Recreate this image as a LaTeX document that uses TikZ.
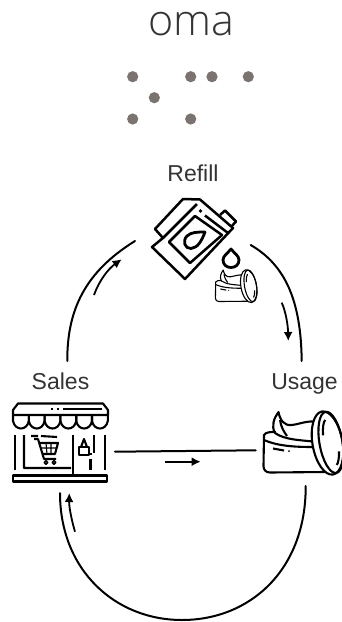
\documentclass[tikz,border=0pt]{standalone}
\usepackage{fontspec}
\usepackage{xcolor}
\setmainfont{Liberation Sans}
\newfontfamily\logofont{Open Sans Light}
\usetikzlibrary{calc,positioning,arrows.meta}
\definecolor{dotgray}{HTML}{7A736F}
\definecolor{textgray}{HTML}{333333}
\tikzset{
  label text/.style={text=textgray,font=\fontsize{23}{23}\selectfont,inner sep=0pt,anchor=base},
  flowline/.style={line width=2pt,line cap=round},
  flowarrow/.style={line width=1.8pt,-{Latex[length=9pt,width=9pt]}},
  icon/.style={line width=2.1pt,line join=round},
  thin icon/.style={line width=1.1pt,line join=round}
}
\newcommand{\jaricon}[1][icon]{
  % cream jar with its lid leaning on the right
  \draw[#1,fill=white] (35,73) .. controls (31,66) and (34,58) .. (38.5,52)
    .. controls (40,60) and (44,66) .. (52,65) .. controls (60,64) and (68,60) .. (78,62)
    -- (78,85) -- (35,85) -- cycle;
  \draw[#1] (40,60) .. controls (41,67) and (44,72) .. (47,76);
  \draw[#1,fill=white] (24,75) .. controls (26,72) and (30,72) .. (35,72) -- (35,73)
    .. controls (45,80) and (60,80) .. (78,82) -- (85,112) -- (30,112.5)
    .. controls (26,112.5) and (23.5,110) .. (23.5,106) -- cycle;
  \draw[#1] (24,80) .. controls (40,87) and (60,87) .. (76,87);
  \draw[#1] (33,88.5) -- (44,90.5);
  \fill (49,91) circle (1);
  \begin{scope}[rotate around={10:(87.5,83)}]
    \draw[#1,fill=white] (87.5,83) ellipse (15 and 32);
    \draw[#1] (91,83) ellipse (11.5 and 31);
    \draw[#1] (91,83) ++(200:7 and 24) arc[start angle=200,end angle=255,x radius=7,y radius=24];
    \draw[#1] (91,83) ++(25:7 and 24) arc[start angle=25,end angle=75,x radius=7,y radius=24];
  \end{scope}
}
\newcommand{\shopicon}{
  % awning, walls, cart, door and step of the shop
  \draw[icon] (13,415) -- (13,410) -- (18,403.5) -- (103,403.5) -- (108,410) -- (108,415) -- cycle;
  \draw[icon] (51,409) -- (53,409) (57,409) -- (59,409) (63,409) -- (102,409);
  \foreach \i in {0,...,5}
    \draw[icon] ({13+15.8*\i},415) -- ({13+15.8*\i},421)
      .. controls ({15+15.8*\i},431) and ({27+15.8*\i},431) .. ({28.8+15.8*\i},421) -- ({28.8+15.8*\i},415);
  \draw[icon] (15,435) -- (15,470) (105,435) -- (105,470) (94,435) -- (94,453);
  \draw[icon] (24,435) -- (24,468) -- (71,468) (31,436) -- (38,436) (41,436) -- (57,437);
  \draw[icon] (73,435) -- (73,475);
  \draw[icon] (13,475.5) rectangle (107,481.5);
  % cart
  \draw[icon] (34,439) -- (38,439) -- (44,459) -- (56,459);
  \draw[icon] (39,443) -- (58,443) -- (55,454) -- (42,454);
  \draw[thin icon] (41,448) -- (57,448) (46,443) -- (47,454) (51,443) -- (51,454);
  \draw[thin icon,line width=1.5pt] (46,462.5) circle (1.8) (54,462.5) circle (1.8);
  % bag on the door
  \draw[icon] (79,447) rectangle (89,455);
  \draw[icon] (81,447) -- (84,439) -- (87,447);
  \draw[icon] (90.5,453) -- (90.5,455) (90.5,459) -- (90.5,470);
}
\newcommand{\refillicon}{
  % tilted canister with its cap and the drops
  \draw[icon,line width=2.5pt] (163,238) -- (152,247) -- (185,279) -- (233,228) -- (200,199.5) -- (183,199) -- (155,229) -- cycle;
  \draw[icon,line width=2.5pt] (163,238) -- (197,204);
  \draw[icon,line width=2.5pt] (205,215.5) -- (228,233);
  \fill (200.5,211) circle (1.9);
  \draw[icon,line width=2.5pt] (220,215) -- (225,210.5) -- (236,221.5) -- (231,227);
  \draw[icon,line width=2.5pt] (169,242) -- (195,216) -- (222,235) -- (190,263) -- cycle;
  \draw[icon,line width=2.8pt] (205,232) .. controls (198,232) and (191,232) .. (187,236)
    .. controls (182,241) and (185,249) .. (191,248.5) .. controls (198,248) and (202,240) .. cycle;
  \draw[icon,line width=2.8pt] (231,249) .. controls (227,254) and (223,256) .. (223,260)
    .. controls (223,270) and (239,270) .. (239,260) .. controls (239,256) and (235,254) .. cycle;
}
\begin{document}
\begin{tikzpicture}[x=1pt,y=-1pt]
  \useasboundingbox (0,0) rectangle (342,622);
  \node (logo) at (191,35) [anchor=base,text=textgray,font=\logofont\fontsize{43}{43}\selectfont,inner sep=0pt] {oma};
  \foreach \px/\py in {132.7/76.7,190.7/76.7,212/76.7,248.3/76.7,154.3/97.7,132.7/119,190.7/119}
    \fill[dotgray] (\px,\py) circle (5.6);
  \node (refill) at (193,181.7) [label text] {Refill};
  \node (sales) at (60.5,389) [label text] {Sales};
  \node (usage) at (304.5,389) [label text] {Usage};
  \refillicon
  \begin{scope}[shift={(203.2,243)},scale=0.52]
    \jaricon[thin icon]
  \end{scope}
  \shopicon
  \begin{scope}[shift={(240,360)}]
    \jaricon
  \end{scope}
  \coordinate (salesTop) at (67.3,361);
  \coordinate (refillLeft) at (135,241);
  \coordinate (refillRight) at (250.7,245);
  \coordinate (usageTop) at (301.7,361);
  \coordinate (salesRight) at (115,451.7);
  \coordinate (usageLeft) at (255.7,450.3);
  \coordinate (usageBottom) at (305.7,486);
  \coordinate (salesBottom) at (60,493);
  \coordinate (arcBottom) at (182,620);
  \draw[flowline] (salesTop) .. controls (67,310) and (85,272) .. (refillLeft);
  \draw[flowline] (refillRight) .. controls (285,265) and (301,300) .. (usageTop);
  \draw[flowline] (salesRight) -- (usageLeft);
  \draw[flowline] (usageBottom) .. controls (306,570) and (250,620) .. (arcBottom)
    .. controls (115,620) and (60,570) .. (salesBottom);
  \draw[flowarrow] (94,295) .. controls (99,281) and (108,269) .. (121.7,259.3);
  \draw[flowarrow] (281.7,302.7) .. controls (286,312) and (288,326) .. (288.3,341);
  \draw[flowarrow] (165,461.7) -- (200.7,461.7);
  \draw[flowarrow] (75,531.7) .. controls (71,518) and (69,506) .. (69.3,493);
\end{tikzpicture}
\end{document}
